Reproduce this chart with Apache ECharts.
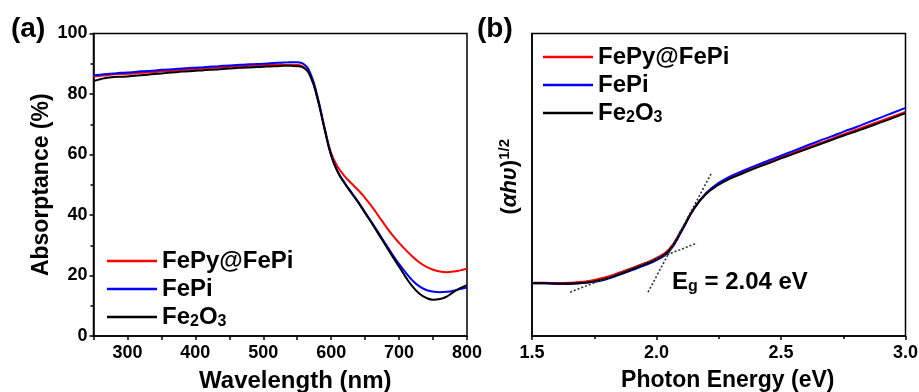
<!DOCTYPE html>
<html>
<head>
<meta charset="utf-8">
<script src="https://cdn.jsdelivr.net/npm/echarts@6/dist/echarts.min.js"></script>
<style>
  html, body { margin: 0; background: #fff; }
  #chart { width: 919px; height: 392px; }
</style>
</head>
<body>
<div id="chart"></div>
<script>
// (a) absorptance spectra
const wavelength = [250, 260, 270, 280, 290, 300, 310, 320, 330, 340, 350, 360, 370, 380, 390, 400, 410, 420, 430, 440,
  450, 460, 470, 480, 490, 500, 510, 520, 530, 540, 550, 560, 570, 580, 590, 600, 610, 620, 630, 640,
  650, 660, 670, 680, 690, 700, 710, 720, 730, 740, 750, 760, 770, 780, 790, 800]
const absFePyFePi = [85.8, 86.0, 86.2, 86.5, 86.6, 86.7, 86.8, 87.0, 87.1, 87.3, 87.5, 87.6, 87.8, 88.0, 88.1, 88.3, 88.4, 88.6, 88.7, 88.9,
  89.0, 89.1, 89.2, 89.3, 89.4, 89.5, 89.6, 89.7, 89.7, 89.7, 89.6, 88.8, 85.8, 78.5, 69.0, 60.5, 55.8, 52.8, 50.4, 48.2,
  45.6, 42.8, 39.6, 36.4, 33.4, 30.8, 28.4, 26.2, 24.3, 22.9, 21.9, 21.3, 21.1, 21.3, 21.7, 22.2]
const absFePi = [86.2, 86.4, 86.6, 86.8, 87.0, 87.1, 87.3, 87.5, 87.6, 87.8, 88.0, 88.1, 88.3, 88.4, 88.6, 88.7, 88.8, 89.0, 89.1, 89.3,
  89.4, 89.6, 89.7, 89.8, 89.9, 90.0, 90.2, 90.3, 90.4, 90.5, 90.5, 89.8, 86.5, 79.0, 69.0, 59.8, 54.2, 50.6, 47.4, 44.3,
  40.9, 37.5, 34.0, 30.5, 27.0, 23.8, 20.9, 18.3, 16.4, 15.2, 14.7, 14.5, 14.6, 15.0, 15.5, 16.0]
const absFe2O3 = [84.3, 84.9, 85.4, 85.6, 85.7, 85.8, 86.0, 86.2, 86.4, 86.6, 86.8, 87.0, 87.2, 87.4, 87.5, 87.7, 87.8, 88.0, 88.1, 88.3,
  88.4, 88.6, 88.7, 88.8, 88.9, 89.0, 89.1, 89.2, 89.3, 89.3, 89.2, 88.6, 85.5, 78.3, 68.6, 59.6, 54.0, 50.4, 47.2, 44.1,
  40.6, 37.2, 33.6, 30.0, 26.4, 22.9, 19.4, 16.3, 14.0, 12.6, 12.0, 12.2, 13.0, 14.5, 15.8, 16.8]
const wlLabels = [300, 400, 500, 600, 700, 800]

// (b) Tauc plot
const energy = [1.50, 1.55, 1.60, 1.65, 1.70, 1.75, 1.80, 1.85, 1.90, 1.95, 2.00, 2.05, 2.10, 2.15, 2.20, 2.25,
  2.30, 2.35, 2.40, 2.45, 2.50, 2.55, 2.60, 2.65, 2.70, 2.75, 2.80, 2.85, 2.90, 2.95, 3.00]
const taucFePyFePi = [17.6, 17.6, 17.5, 17.6, 17.9, 18.5, 19.5, 20.9, 22.4, 24.0, 25.8, 28.6, 35.0, 42.2, 47.2, 50.3,
  52.5, 54.2, 55.9, 57.5, 59.0, 60.6, 62.1, 63.6, 65.1, 66.6, 68.1, 69.6, 71.1, 72.6, 74.1]
const taucFePi = [17.4, 17.4, 17.3, 17.3, 17.5, 17.9, 18.8, 20.2, 21.7, 23.3, 25.1, 27.9, 34.5, 42.0, 47.3, 50.6,
  52.9, 54.7, 56.4, 58.0, 59.6, 61.2, 62.8, 64.4, 65.9, 67.5, 69.0, 70.6, 72.2, 73.8, 75.4]
const taucFe2O3 = [17.4, 17.4, 17.3, 17.3, 17.5, 18.0, 19.0, 20.4, 22.0, 23.6, 25.4, 28.2, 34.8, 42.0, 47.0, 50.0,
  52.2, 53.9, 55.6, 57.1, 58.7, 60.2, 61.7, 63.2, 64.7, 66.2, 67.6, 69.1, 70.6, 72.1, 73.7]
// tangent lines used for the band gap
const tangentBase = [[1.653, 14.5], [2.163, 30.7]]
const tangentEdge = [[1.966, 14.5], [2.223, 54.2]]

const FONT = '"Liberation Sans", Arial, sans-serif'
const names = ['FePy@FePi', 'FePi', 'Fe2O3']
const colors = ['#ff0000', '#0000ff', '#000000']

const zip = (xs, ys) => xs.map((x, i) => [x, ys[i]])

const chart = echarts.init(document.getElementById('chart'))

const legendText = {
  fontFamily: FONT,
  rich: {
    n: { fontSize: 24, fontWeight: 'bold', color: '#000', lineHeight: 26, fontFamily: FONT },
    s: { fontSize: 16, fontWeight: 'bold', color: '#000', lineHeight: 10, verticalAlign: 'bottom', fontFamily: FONT },
  },
}
const legendFmt = (name) => (name === 'Fe2O3' ? '{n|Fe}{s|2}{n|O}{s|3}' : '{n|' + name + '}')

function lineSeries(name, data, xi, color) {
  return {
    type: 'line',
    name,
    xAxisIndex: xi,
    yAxisIndex: xi,
    data,
    smooth: true,
    symbol: 'none',
    lineStyle: { color, width: 2 },
    itemStyle: { color },
    z: 3,
  }
}

function tangent(data) {
  return {
    type: 'line',
    xAxisIndex: 1,
    yAxisIndex: 1,
    data,
    symbol: 'none',
    silent: true,
    lineStyle: { color: '#333', width: 1.6, type: [2, 2] },
    z: 4,
  }
}

const axisLine = { lineStyle: { color: '#000', width: 1.5 } }
const tickLabel = { fontFamily: FONT, fontSize: 18, fontWeight: 'bold', color: '#000' }
const titleStyle = { fontFamily: FONT, fontSize: 24, fontWeight: 'bold', color: '#000' }

const legendBase = {
  data: names, orient: 'vertical', itemGap: 4, icon: 'rect',
  itemWidth: 50, itemHeight: 2.5, formatter: legendFmt, textStyle: legendText,
}

const option = {
  animation: false,
  backgroundColor: '#fff',
  grid: [
    { left: 93.5, right: 452, top: 33.5, bottom: 56, outerBoundsMode: 'none', show: true, borderColor: '#000', borderWidth: 1.5 },
    { left: 532, right: 13.5, top: 33.5, bottom: 56, outerBoundsMode: 'none', show: true, borderColor: '#000', borderWidth: 1.5 },
  ],
  xAxis: [
    {
      gridIndex: 0, type: 'value', min: 250, max: 800, interval: 50,
      axisLine, splitLine: { show: false },
      axisTick: { length: 4, lineStyle: { color: '#000', width: 1.5 } },
      axisLabel: { ...tickLabel, margin: 8, formatter: (v) => (wlLabels.includes(v) ? String(v) : '') },
      name: 'Wavelength (nm)', nameLocation: 'middle', nameGap: 33,
      nameTextStyle: { ...titleStyle, padding: [0, 0, 0, 30] },
    },
    {
      gridIndex: 1, type: 'value', min: 1.5, max: 3.0, interval: 0.5,
      axisLine, splitLine: { show: false },
      axisTick: { length: 4, lineStyle: { color: '#000', width: 1.5 } },
      minorTick: { show: true, splitNumber: 2, length: 3, lineStyle: { color: '#000', width: 1.5 } },
      axisLabel: { ...tickLabel, margin: 8, formatter: (v) => v.toFixed(1) },
      name: 'Photon Energy (eV)', nameLocation: 'middle', nameGap: 33,
      nameTextStyle: { ...titleStyle, fontSize: 23, padding: [0, 0, 0, 18] },
    },
  ],
  yAxis: [
    {
      gridIndex: 0, type: 'value', min: 0, max: 100, interval: 20,
      axisLine: { show: true, ...axisLine }, splitLine: { show: false },
      axisTick: { show: true, length: 4, lineStyle: { color: '#000', width: 1.5 } },
      minorTick: { show: true, splitNumber: 2, length: 3, lineStyle: { color: '#000', width: 1.5 } },
      axisLabel: { ...tickLabel, margin: 6 },
      name: 'Absorptance (%)', nameLocation: 'middle', nameGap: 40,
      nameTextStyle: { ...titleStyle, fontSize: 23 },
    },
    {
      gridIndex: 1, type: 'value', min: 0, max: 100,
      axisLine: { show: true, ...axisLine }, splitLine: { show: false },
      axisTick: { show: false }, axisLabel: { show: false },
      name: '{p|(}{i|αhυ}{p|)}{sup|1/2}', nameLocation: 'middle', nameGap: 9,
      nameTextStyle: {
        padding: [0, 0, 0, 16],
        rich: {
          p: { fontFamily: FONT, fontSize: 22, fontWeight: 'bold', color: '#000', lineHeight: 26 },
          i: { fontFamily: FONT, fontSize: 22, fontWeight: 'bold', fontStyle: 'italic', color: '#000', lineHeight: 26 },
          sup: { fontFamily: FONT, fontSize: 15, fontWeight: 'bold', color: '#000', lineHeight: 14, verticalAlign: 'top' },
        },
      },
    },
  ],
  legend: [
    { ...legendBase, left: 102, top: 244 },
    { ...legendBase, left: 538, top: 40 },
  ],
  graphic: [
    { type: 'text', left: 11, top: 15, style: { text: '(a)', font: 'bold 28px ' + FONT, fill: '#000' } },
    { type: 'text', left: 477, top: 15, style: { text: '(b)', font: 'bold 28px ' + FONT, fill: '#000' } },
    {
      type: 'text', left: 672, top: 270,
      style: {
        text: '{e|E}{g|g}{e| = 2.04 eV}',
        rich: {
          e: { fontFamily: FONT, fontSize: 24, fontWeight: 'bold', fill: '#000', lineHeight: 26 },
          g: { fontFamily: FONT, fontSize: 16, fontWeight: 'bold', fill: '#000', lineHeight: 10, verticalAlign: 'bottom' },
        },
      },
    },
  ],
  series: [
    lineSeries(names[0], zip(wavelength, absFePyFePi), 0, colors[0]),
    lineSeries(names[1], zip(wavelength, absFePi), 0, colors[1]),
    lineSeries(names[2], zip(wavelength, absFe2O3), 0, colors[2]),
    lineSeries(names[0], zip(energy, taucFePyFePi), 1, colors[0]),
    lineSeries(names[1], zip(energy, taucFePi), 1, colors[1]),
    lineSeries(names[2], zip(energy, taucFe2O3), 1, colors[2]),
    tangent(tangentBase),
    tangent(tangentEdge),
  ],
}

chart.setOption(option)
</script>
</body>
</html>
